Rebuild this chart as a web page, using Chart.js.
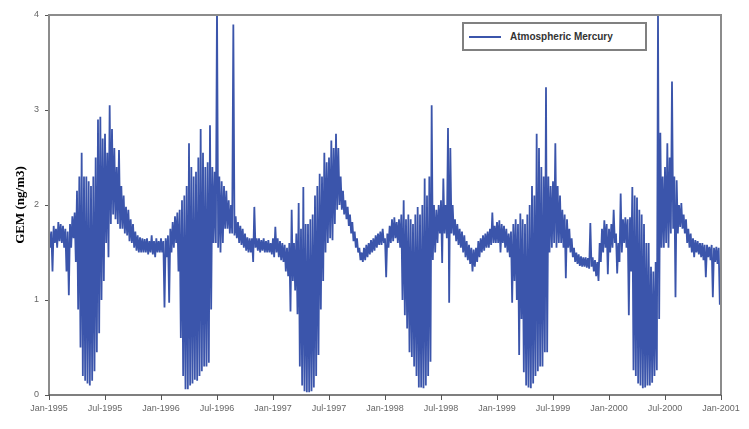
<!DOCTYPE html>
<html lang="en">
<head>
  <meta charset="UTF-8">
  <title>Atmospheric Mercury</title>
  <script src="https://cdn.jsdelivr.net/npm/chart.js"></script>
  <style>
    html, body {
      margin: 0;
      padding: 0;
      background: #fff;
    }
    #wrap {
      position: relative;
      width: 749px;
      height: 429px;
    }
    #legend {
      position: absolute;
      left: 462px;
      top: 22px;
      width: 181px;
      height: 25px;
      border: 2px solid #808080;
      background: #fff;
      font: bold 10px Arial, "Liberation Sans", sans-serif;
      color: #333;
      display: flex;
      align-items: center;
    }
    #legend .swatch {
      display: inline-block;
      width: 32px;
      border-top: 2px solid #3b55ab;
      margin: 0 9px 0 5px;
    }
  </style>
</head>
<body>
  <div id="wrap">
    <canvas id="gem-chart" width="749" height="429"></canvas>
    <div id="legend"><span class="swatch"></span><span id="legend-text"></span></div>
  </div>

  <script>
    // weekly high / low of GEM (4 weeks per month)
    const seriesLabel = 'Atmospheric Mercury';
    const tickLabels = ['Jan-1995', 'Jul-1995', 'Jan-1996', 'Jul-1996', 'Jan-1997', 'Jul-1997',
      'Jan-1998', 'Jul-1998', 'Jan-1999', 'Jul-1999', 'Jan-2000', 'Jul-2000', 'Jan-2001'];

    const hi1995 = [1.75, 1.72, 1.78, 1.75, 1.82, 1.80, 1.78, 1.75, 1.72, 1.80, 1.88, 1.92,
      2.15, 2.30, 2.55, 2.30, 2.30, 2.25, 2.20, 2.30, 2.50, 2.90, 2.93, 2.70,
      2.75, 2.55, 3.05, 2.80, 2.60, 2.40, 2.58, 2.20, 2.10, 1.98, 1.95, 1.85,
      1.80, 1.72, 1.68, 1.66, 1.65, 1.64, 1.65, 1.62, 1.68, 1.62, 1.65, 1.62];
    const lo1995 = [1.55, 1.30, 1.60, 1.55, 1.62, 1.60, 1.55, 1.30, 1.05, 1.55, 1.65, 1.40,
      0.90, 0.50, 0.20, 0.15, 0.12, 0.10, 0.15, 0.25, 0.45, 0.65, 1.00, 1.20,
      1.60, 1.45, 1.80, 1.90, 1.85, 1.80, 1.75, 1.75, 1.70, 1.68, 1.62, 1.60,
      1.55, 1.52, 1.50, 1.50, 1.50, 1.50, 1.48, 1.50, 1.48, 1.45, 1.50, 1.50];

    const hi1996 = [1.65, 1.62, 1.65, 1.68, 1.75, 1.82, 1.88, 1.92, 1.95, 2.05, 2.10, 2.20,
      2.65, 2.40, 2.30, 2.35, 2.50, 2.80, 2.55, 2.40, 2.45, 2.84, 2.40, 2.35,
      4.10, 2.30, 2.25, 2.20, 2.15, 2.05, 2.00, 3.90, 1.88, 1.82, 1.78, 1.75,
      1.70, 1.66, 1.65, 1.65, 1.98, 1.65, 1.65, 1.63, 1.65, 1.62, 1.63, 1.60];
    const lo1996 = [1.50, 0.92, 1.45, 0.97, 1.50, 1.55, 1.60, 1.30, 0.60, 0.20, 0.06, 0.06,
      0.10, 0.12, 0.16, 0.15, 0.20, 0.25, 0.30, 0.30, 0.34, 0.90, 1.60, 1.60,
      1.55, 1.50, 1.60, 1.75, 1.75, 1.70, 1.70, 1.68, 1.65, 1.60, 1.58, 1.55,
      1.52, 1.50, 1.50, 1.40, 1.55, 1.52, 1.50, 1.52, 1.50, 1.50, 1.50, 1.48];

    const hi1997 = [1.65, 1.77, 1.65, 1.62, 1.60, 1.58, 1.55, 1.60, 1.95, 1.60, 1.70, 2.02,
      1.75, 2.19, 1.80, 1.80, 1.85, 1.90, 2.10, 2.20, 2.33, 2.30, 2.55, 2.45,
      2.50, 2.68, 2.60, 2.75, 2.60, 2.30, 2.15, 2.05, 1.98, 1.90, 1.82, 1.72,
      1.65, 1.55, 1.50, 1.55, 1.58, 1.60, 1.63, 1.65, 1.68, 1.70, 1.72, 1.75];
    const lo1997 = [1.45, 1.50, 1.45, 1.42, 1.40, 1.30, 1.25, 0.88, 1.20, 1.10, 0.85, 0.30,
      0.10, 0.04, 0.03, 0.03, 0.04, 0.08, 0.20, 0.42, 0.90, 1.20, 1.50, 1.60,
      1.65, 1.63, 1.80, 1.95, 2.00, 1.95, 1.90, 1.85, 1.78, 1.70, 1.62, 1.55,
      1.50, 1.42, 1.40, 1.42, 1.45, 1.48, 1.50, 1.52, 1.55, 1.58, 1.58, 1.60];

    const hi1998 = [1.65, 1.70, 1.78, 1.85, 1.87, 1.82, 1.85, 1.90, 2.05, 1.85, 1.90, 1.85,
      1.80, 1.90, 1.98, 1.90, 2.00, 2.28, 2.10, 2.30, 3.05, 2.00, 1.95, 2.00,
      2.05, 2.28, 2.00, 2.81, 2.60, 2.00, 1.85, 1.80, 1.75, 1.72, 1.68, 1.62,
      1.58, 1.55, 1.53, 1.55, 1.62, 1.65, 1.68, 1.70, 1.72, 1.75, 1.92, 1.78];
    const lo1998 = [1.24, 1.55, 1.60, 1.62, 1.65, 1.60, 1.55, 1.00, 0.84, 0.70, 0.45, 0.40,
      0.30, 0.20, 0.08, 0.08, 0.07, 0.10, 0.20, 0.35, 1.42, 1.50, 1.60, 1.70,
      1.39, 1.70, 1.65, 0.97, 1.70, 1.68, 1.62, 1.58, 1.55, 1.50, 1.45, 1.42,
      1.38, 1.30, 1.35, 1.40, 1.45, 1.50, 1.52, 1.55, 1.55, 1.58, 1.60, 1.60];

    const hi1999 = [1.82, 1.84, 1.80, 1.78, 1.75, 1.70, 1.72, 1.80, 1.85, 1.80, 1.91, 1.85,
      1.80, 1.90, 2.00, 2.20, 2.10, 2.75, 2.60, 2.40, 2.30, 3.24, 2.30, 2.20,
      2.25, 2.65, 2.20, 2.10, 1.95, 1.90, 1.85, 1.75, 1.65, 1.55, 1.50, 1.48,
      1.46, 1.45, 1.45, 1.44, 1.81, 1.45, 1.42, 1.40, 1.60, 1.75, 1.84, 1.80];
    const lo1999 = [1.60, 1.50, 1.60, 1.55, 1.50, 1.45, 0.97, 1.20, 1.00, 0.42, 0.80, 0.24,
      0.10, 0.08, 0.07, 0.12, 0.20, 0.25, 0.30, 0.30, 0.45, 0.45, 1.50, 1.55,
      1.60, 1.55, 1.60, 1.60, 1.55, 1.23, 1.55, 1.50, 1.45, 1.40, 1.38, 1.36,
      1.35, 1.35, 1.34, 1.33, 1.35, 1.30, 1.25, 1.20, 1.40, 1.50, 1.55, 1.27];

    const hi2000 = [1.75, 1.80, 1.95, 1.70, 1.60, 2.12, 1.85, 1.87, 1.85, 1.87, 2.19, 2.10,
      2.08, 1.95, 1.90, 1.80, 1.60, 1.60, 1.35, 1.30, 1.40, 4.00, 2.76, 2.30,
      2.40, 2.65, 2.50, 3.30, 2.30, 2.26, 2.00, 2.02, 1.90, 1.85, 1.75, 1.70,
      1.65, 1.63, 1.62, 1.60, 1.60, 1.58, 1.58, 1.56, 1.58, 1.55, 1.56, 1.55];
    const lo2000 = [1.50, 1.55, 1.60, 1.28, 1.40, 1.50, 1.60, 1.55, 0.84, 1.30, 0.26, 0.20,
      0.12, 0.10, 0.07, 0.08, 0.10, 0.10, 0.13, 0.20, 0.26, 0.80, 1.55, 1.55,
      1.60, 1.55, 1.70, 1.75, 1.03, 1.70, 1.77, 1.75, 1.70, 1.60, 1.55, 1.50,
      1.45, 1.50, 1.48, 1.45, 1.42, 1.24, 1.45, 1.42, 1.03, 1.40, 1.38, 0.95];

    const highs = [hi1995, hi1996, hi1997, hi1998, hi1999, hi2000];
    const lows = [lo1995, lo1996, lo1997, lo1998, lo1999, lo2000];

    // x in months since Jan-1995; each week is drawn as its high then its low
    const points = [];
    highs.forEach((arr, k) => {
      arr.forEach((h, i) => {
        const m = k * 12 + i * 0.25;
        points.push({ x: m, y: h });
        points.push({ x: m + 0.125, y: lows[k][i] });
      });
    });

    document.getElementById('legend-text').textContent = seriesLabel;

    const framePlugin = {
      id: 'frame',
      afterDatasetsDraw(chart) {
        const { ctx, chartArea: a } = chart;
        ctx.save();
        ctx.strokeStyle = '#8c8c8c';
        ctx.lineWidth = 2;
        ctx.beginPath();
        ctx.moveTo(a.left, a.bottom);
        ctx.lineTo(a.left, a.top);
        ctx.lineTo(a.right, a.top);
        ctx.lineTo(a.right, a.bottom);
        ctx.stroke();
        ctx.strokeStyle = '#555';
        ctx.lineWidth = 1.5;
        ctx.beginPath();
        ctx.moveTo(a.left, a.bottom);
        ctx.lineTo(a.right, a.bottom);
        ctx.stroke();
        ctx.restore();
      }
    };

    new Chart(document.getElementById('gem-chart'), {
      type: 'line',
      data: {
        datasets: [{
          label: seriesLabel,
          data: points,
          borderColor: '#3b55ab',
          borderWidth: 1.8,
          borderJoinStyle: 'bevel',
          pointRadius: 0,
          tension: 0,
          fill: false
        }]
      },
      options: {
        responsive: false,
        animation: false,
        layout: { padding: { left: 0, top: 15, right: 28, bottom: 0 } },
        plugins: {
          legend: { display: false },
          tooltip: { enabled: false }
        },
        scales: {
          x: {
            type: 'linear',
            min: 0,
            max: 72,
            afterFit(scale) { scale.height = 34; },
            border: { display: false },
            grid: { drawOnChartArea: false, drawTicks: true, tickLength: 5, color: '#555' },
            ticks: {
              stepSize: 6,
              autoSkip: false,
              maxRotation: 0,
              padding: 3,
              color: '#666',
              font: { family: 'Arial, "Liberation Sans", sans-serif', size: 9 },
              callback: v => tickLabels[v / 6]
            }
          },
          y: {
            min: 0,
            max: 4,
            afterFit(scale) { scale.width = 49; },
            border: { display: false },
            grid: { drawOnChartArea: false, drawTicks: true, tickLength: 4, color: '#555' },
            ticks: {
              stepSize: 1,
              padding: 6,
              color: '#666',
              font: { family: 'Arial, "Liberation Sans", sans-serif', size: 9 }
            },
            title: {
              display: true,
              text: 'GEM (ng/m3)',
              color: '#000',
              padding: { top: 13, bottom: 0 },
              font: { family: '"Liberation Serif", "DejaVu Serif", serif', size: 13, weight: 'bold' }
            }
          }
        }
      },
      plugins: [framePlugin]
    });
  </script>
</body>
</html>
